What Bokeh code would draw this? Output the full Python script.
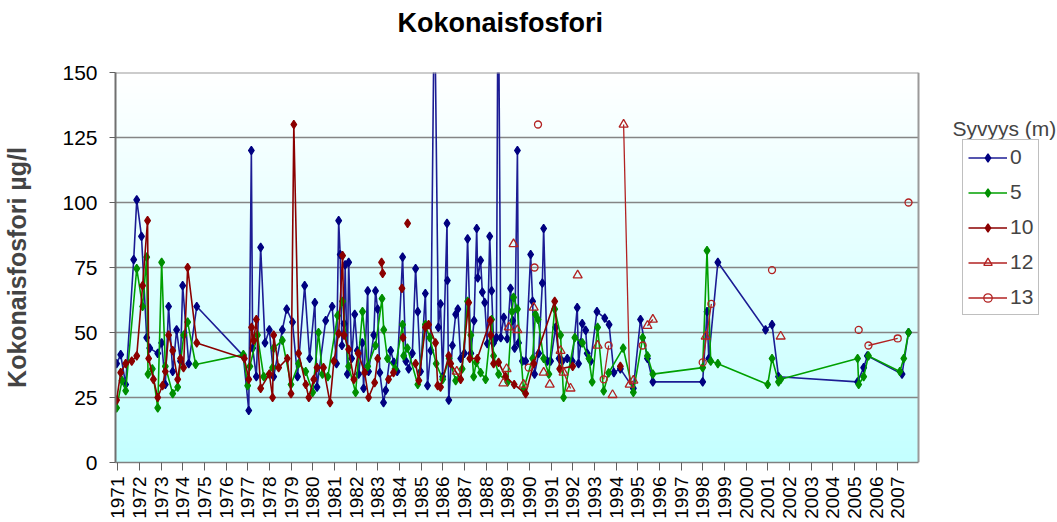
import numpy as np
from bokeh.plotting import figure
from bokeh.models import Range1d, FixedTicker, Legend, LegendItem, Label, Title, ColumnDataSource
from bokeh.embed import file_html
from bokeh.resources import INLINE

# ---------------- data ----------------
title_text = "Kokonaisfosfori"
y_label = "Kokonaisfosfori µg/l"
legend_title = "Syvyys (m)"
x_tick_years = list(range(1971, 2008))
y_ticks = [0, 25, 50, 75, 100, 125, 150]
series_names = ["0", "5", "10", "12", "13"]

# depth 0 m
d0_year = [1970.95, 1971.14, 1971.37, 1971.74, 1971.88, 1972.10, 1972.34, 1972.48, 1972.85, 1973.03,
           1973.20, 1973.35, 1973.54, 1973.72, 1973.90, 1974.00, 1974.28, 1974.65, 1976.80, 1977.05,
           1977.17, 1977.23, 1977.40, 1977.60, 1977.80, 1978.00, 1978.20, 1978.60, 1978.80, 1979.07,
           1979.30, 1979.63, 1979.86, 1980.10, 1980.20, 1980.60, 1980.90, 1981.10, 1981.20, 1981.27,
           1981.35, 1981.45, 1981.50, 1981.60, 1981.66, 1981.80, 1981.94, 1982.06, 1982.12, 1982.29,
           1982.35, 1982.54, 1982.58, 1982.82, 1982.90, 1983.00, 1983.10, 1983.27, 1983.37, 1983.60,
           1983.75, 1983.90, 1984.15, 1984.30, 1984.43, 1984.60, 1984.75, 1984.85, 1984.98, 1985.20,
           1985.30, 1985.45, 1985.62, 1985.80, 1985.90, 1986.00, 1986.20, 1986.22, 1986.28, 1986.45,
           1986.60, 1986.70, 1986.83, 1987.00, 1987.15, 1987.30, 1987.45, 1987.57, 1987.62, 1987.75,
           1987.83, 1987.94, 1988.06, 1988.17, 1988.26, 1988.35, 1988.48, 1988.56, 1988.68, 1988.82,
           1988.98, 1989.13, 1989.23, 1989.32, 1989.45, 1989.50, 1989.68, 1989.83, 1990.06, 1990.15,
           1990.24, 1990.43, 1990.60, 1990.66, 1990.83, 1990.98, 1991.21, 1991.37, 1991.52, 1991.75,
           1991.98, 1992.21, 1992.27, 1992.37, 1992.44, 1992.60, 1992.67, 1992.83, 1993.12, 1993.48,
           1993.68, 1993.90, 1994.20, 1994.80, 1995.13, 1995.45, 1995.70, 1998.00, 1998.20, 1998.28,
           1998.70, 2000.90, 2001.20, 2001.50, 2005.15, 2005.43, 2005.60, 2007.20, 2007.50]
d0_val = [38, 41.5, 30, 78, 101, 87, 48, 44, 42, 46,
          30, 60, 35, 51, 39, 68, 38, 60, 41, 20,
          120, 44, 33, 82.7, 46, 51, 33, 51, 59, 54,
          33, 68, 40, 61.5, 29, 54.6, 60, 38, 93, 80,
          45, 53.4, 76, 34, 77, 40, 57, 43, 34, 46,
          28.5, 66, 35, 49, 66, 59, 34.6, 23, 27.7, 43,
          38.5, 35, 79, 39, 36, 42, 74.6, 58, 35, 65,
          29.6, 43, 185, 52, 61, 33, 92, 70, 24, 45,
          57, 59, 40, 42, 86, 42, 54.6, 90, 71, 77.7,
          65.5, 61.5, 45.7, 87, 66, 46, 48, 200, 48, 55.8,
          47.6, 67, 54.6, 44, 120, 46, 39, 39, 80, 62,
          34, 42, 69, 90, 39, 39, 52, 40, 39, 40,
          39, 59.6, 38, 46, 53.4, 50.8, 42, 39, 58, 55.5,
          53, 34.6, 36, 28.5, 55, 40, 31, 31, 58, 40,
          77, 51, 53, 33, 31, 36.5, 41, 34, 50]

# depth 5 m
d5_year = [1970.95, 1971.20, 1971.37, 1971.88, 1972.15, 1972.34, 1972.40, 1972.60, 1972.85, 1973.03,
           1973.20, 1973.54, 1973.77, 1974.05, 1974.23, 1974.60, 1976.80, 1977.00, 1977.10, 1977.45,
           1977.74, 1978.15, 1978.20, 1978.60, 1979.00, 1979.35, 1979.68, 1980.00, 1980.27, 1980.45,
           1980.70, 1981.15, 1981.38, 1981.66, 1981.98, 1982.30, 1982.54, 1982.90, 1983.20, 1983.28,
           1983.45, 1983.80, 1984.15, 1984.20, 1984.37, 1984.85, 1985.20, 1985.40, 1985.70, 1986.00,
           1986.30, 1986.60, 1986.90, 1987.15, 1987.30, 1987.43, 1987.55, 1987.75, 1987.98, 1988.26,
           1988.35, 1988.58, 1989.00, 1989.20, 1989.27, 1989.45, 1989.73, 1990.15, 1990.28, 1990.40,
           1990.66, 1990.90, 1991.17, 1991.44, 1991.58, 1992.10, 1992.45, 1992.75, 1992.90, 1993.15,
           1993.43, 1993.66, 1994.33, 1994.80, 1995.23, 1995.45, 1995.70, 1998.00, 1998.20, 1998.37,
           1998.70, 2001.00, 2001.20, 2001.50, 2001.60, 2005.15, 2005.20, 2005.43, 2005.65, 2007.10,
           2007.28, 2007.50]
d5_val = [21, 31.5, 27.6, 74.6, 60, 79, 34, 36, 21, 77,
          37, 26.5, 29, 49, 54, 37.7, 41.5, 29.6, 37, 49,
          33, 36.5, 44, 47, 30, 38, 35, 27, 50, 34,
          33, 56.5, 62, 37, 27, 58, 37, 45, 63, 51,
          40, 36, 53, 41, 44, 30, 53, 48, 38, 32,
          40, 31.5, 36, 62, 49, 33, 38.5, 34.6, 32, 55,
          41, 34, 31, 58, 63.5, 59, 28, 40, 57, 55,
          40, 34, 59, 49, 25, 48, 46, 40, 31, 52,
          27.5, 34.5, 44, 27, 48, 41, 34, 36.5, 81.5, 39,
          38, 30, 40, 31, 32, 40, 30, 33, 41, 35,
          40, 50]

# depth 10 m (None = no sample, the line is broken there)
d10_year = [1970.95, 1971.14, 1971.37, 1971.65, 1971.88, 1972.15, 1972.38, 1972.43, 1972.65, 1972.85,
            1973.07, 1973.20, 1973.35, 1973.54, 1973.77, 1973.90, 1974.04, 1974.23, 1974.65, 1976.85,
            1977.05, 1977.18, 1977.28, 1977.40, 1977.60, 1978.00, 1978.15, 1978.20, 1978.43, 1978.83,
            1979.00, 1979.13, 1979.35, 1979.68, 1979.82, 1980.05, 1980.20, 1980.50, 1980.80, 1980.98,
            1981.20, 1981.38, 1981.45, 1981.66, 1981.90, 1982.10, 1982.40, 1982.58, 1982.86, 1983.00,
            1983.10, 1983.18, 1983.23, 1983.30, 1983.50, 1983.73, 1983.95, 1984.12, 1984.14, 1984.17,
            1984.30, 1984.38, 1984.45, 1984.75, 1984.90, 1985.20, 1985.35, 1985.67, 1985.77, 1985.90,
            1986.28, 1986.37, 1986.83, 1987.20, 1987.25, 1987.60, 1988.20, 1988.22, 1988.35, 1988.58,
            1988.90, 1989.30, 1989.83, 1990.20, 1991.17, 1991.40, 1992.00, 1993.00, 1994.20]
d10_val = [24, 34.6, 38, 39, 41, 68, 93, 40, 32, 25,
           29.6, 35, 49, 43, 32, 40, 36.5, 75, 46, 40,
           32, 52, 47, 55, 28.5, 34, 25, 49, 36.5, 40,
           26.5, 130, 42, 30, 25, 32, 36.5, 36.5, 23, 39,
           49.6, 79.6, 49, 43.5, 32, 42, 34.6, 25, 30.7, 40,
           None, 77, 72.7, None, 32, 34.6, None, 67, None, 48,
           None, 92, None, 38, 31.5, 52, 53, 46, 29.6, 29,
           41, 38, 32, 61.5, 40, 40, 54.6, 49, 38, 38.5,
           33, 30, 26.5, 38, 62, 36, 37, None, 37]

# depth 12 m
d12_year = [1986.65, 1987.50, 1988.80, 1988.90, 1988.95, 1989.00, 1989.05, 1989.15, 1989.27, 1989.36,
            1989.45, 1989.60, 1989.73, 1990.00, 1990.20, 1990.50, 1990.66, 1990.80, 1990.94, 1991.20,
            1991.44, 1991.58, 1991.90, 1992.05, 1992.23, 1992.60, 1993.15, 1993.50, 1993.84, 1994.10,
            1994.35, 1994.63, 1994.80, 1995.20, 1995.45, 1995.70, 1996.50, 1998.14, 2000.00, 2001.60]
d12_val = [35, None, 30.5, None, 36, None, 52, None, 84, None,
           51, None, 30, None, 59.6, None, 34.6, None, 30, None,
           43, 34.6, 28.5, None, 72, None, 45, None, 26, None,
           130, 30, 31.5, None, 52.6, 55, None, 48.5, None, 48.5]

# depth 13 m
d13_year = [1989.97, 1990.10, 1990.24, 1990.32, 1990.40, 1991.50, 1993.43, 1993.66, 1994.50, 1995.23,
            1996.50, 1998.00, 1998.40, 2000.00, 2001.20, 2003.00, 2005.20, 2005.40, 2005.65, 2007.00,
            2007.30, 2007.50]
d13_val = [36.5, None, 75, None, 130, None, 32, 45, None, 45,
           None, 38.5, 61, None, 74, None, 51, None, 45, 47.7,
           None, 100]

# ---------------- layout constants ----------------
FONT = "Liberation Sans"
X0, X1 = 1970.9, 2007.96          # plot-area x extent (years)
Y_TOP = 150                       # plot-area top value
PLOT_W, PLOT_H = 803, 390         # plot-area size in px
LEFT, TOP, BOTTOM = 115, 72, 59   # border sizes
FRAME_W = 941                     # frame reaches to the right edge (room for the legend)
px_per_year = PLOT_W / (X1 - X0)
XR1 = X0 + FRAME_W / px_per_year

fig = figure(frame_width=FRAME_W, frame_height=PLOT_H,
             x_range=Range1d(X0, XR1), y_range=Range1d(0, Y_TOP),
             output_backend="svg", toolbar_location=None, title=None,
             min_border_left=LEFT, min_border_right=0,
             min_border_top=TOP, min_border_bottom=BOTTOM,
             background_fill_color="white", border_fill_color="white",
             outline_line_color=None)
fig.grid.visible = False

# chart title: a spacer row next to the frame, the title row above it
fig.add_layout(Title(text=" ", text_font_size="10px", standoff=16), "above")
fig.add_layout(Title(text=title_text, align="left", offset=282, vertical_align="bottom",
                     text_font=FONT, text_font_style="bold", text_font_size="27px",
                     text_color="black", standoff=11), "above")

# vertical gradient background (white at top -> light cyan at bottom)
n = 200
t = np.linspace(0.0, 1.0, n)
img = np.empty((n, 1), dtype=np.uint32)
view = img.view(dtype=np.uint8).reshape((n, 1, 4))
view[:, 0, 0] = (196 + (255 - 196) * t).astype(np.uint8)
view[:, 0, 1] = 255
view[:, 0, 2] = 255
view[:, 0, 3] = 255
fig.image_rgba(image=[img], x=X0, y=0, dw=X1 - X0, dh=Y_TOP, level="image")

# horizontal grid lines limited to the plot area
grid_y = np.array(y_ticks[1:-1], dtype=float)
fig.segment(x0=np.full(len(grid_y), X0), x1=np.full(len(grid_y), X1), y0=grid_y, y1=grid_y,
            line_color="#858585", line_width=1.3)

# axes
fig.xaxis.bounds = (X0, X1)
fig.xaxis.ticker = FixedTicker(ticks=x_tick_years)
fig.xaxis.major_label_orientation = np.pi / 2
fig.xaxis.major_label_text_font = FONT
fig.xaxis.major_label_text_font_size = "19px"
fig.xaxis.major_label_text_color = "black"
fig.xaxis.major_label_standoff = 6
fig.xaxis.major_tick_out = 8
fig.xaxis.major_tick_in = 0
fig.xaxis.minor_tick_line_color = None
fig.xaxis.axis_line_color = "#808080"
fig.xaxis.axis_line_width = 1.5
fig.xaxis.major_tick_line_color = "#606060"

fig.yaxis.ticker = FixedTicker(ticks=y_ticks)
fig.yaxis.major_label_text_font = FONT
fig.yaxis.major_label_text_font_size = "21px"
fig.yaxis.major_label_text_color = "black"
fig.yaxis.major_label_standoff = 12
fig.yaxis.major_tick_out = 6
fig.yaxis.major_tick_in = 0
fig.yaxis.minor_tick_line_color = None
fig.yaxis.axis_line_color = "#707070"
fig.yaxis.axis_line_width = 2
fig.yaxis.major_tick_line_color = "#606060"
fig.yaxis.axis_label = y_label
fig.yaxis.axis_label_text_font = FONT
fig.yaxis.axis_label_text_font_style = "bold"
fig.yaxis.axis_label_text_font_size = "25px"
fig.yaxis.axis_label_standoff = 28

# style per series: line colour, marker, size, fill, edge, line width
styles = [
    ("#1c1c94", "diamond", 8.5, "#000080", "#000080", 1.6),
    ("#00a000", "diamond", 8.5, "#008f00", "#008f00", 1.6),
    ("#8b0000", "diamond", 8.5, "#8b0000", "#8b0000", 1.6),
    ("#b22222", "triangle", 9, None, "#b22222", 1.3),
    ("#b22222", "circle", 7, None, "#b22222", 1.3),
]
data = [(d0_year, d0_val), (d5_year, d5_val), (d10_year, d10_val),
        (d12_year, d12_val), (d13_year, d13_val)]

items = []
for name, (xs, ys), st in zip(series_names, data, styles):
    lc, mk, sz, fc, ec, lw = st
    src = ColumnDataSource(dict(x=np.array(xs, dtype=float), y=np.array(ys, dtype=float)))
    ln = fig.line("x", "y", source=src, line_color=lc, line_width=lw)
    sc = fig.scatter("x", "y", source=src, marker=mk, size=sz,
                     fill_color=fc, line_color=ec, line_width=1.3)
    items.append(LegendItem(label=name, renderers=[ln, sc]))

# plot-area border: top and right
fig.segment(x0=[X0, X1], x1=[X1, X1], y0=[Y_TOP, 0], y1=[Y_TOP, Y_TOP],
            line_color="#9a9a9a", line_width=2)

legend = Legend(items=items, location=(847, 147), orientation="vertical",
                glyph_width=39, glyph_height=21, label_height=21, spacing=11,
                padding=5, margin=0, label_standoff=3,
                label_text_font=FONT, label_text_font_size="21px",
                border_line_color="#808080", border_line_width=1.5,
                background_fill_color="white", background_fill_alpha=1.0)
fig.add_layout(legend)

fig.add_layout(Label(x=2009.53, y=128.5, text=legend_title, text_align="left",
                     text_baseline="middle", text_font=FONT, text_font_size="21px"))

p = fig
open("out.html", "w").write(file_html(p, INLINE))
